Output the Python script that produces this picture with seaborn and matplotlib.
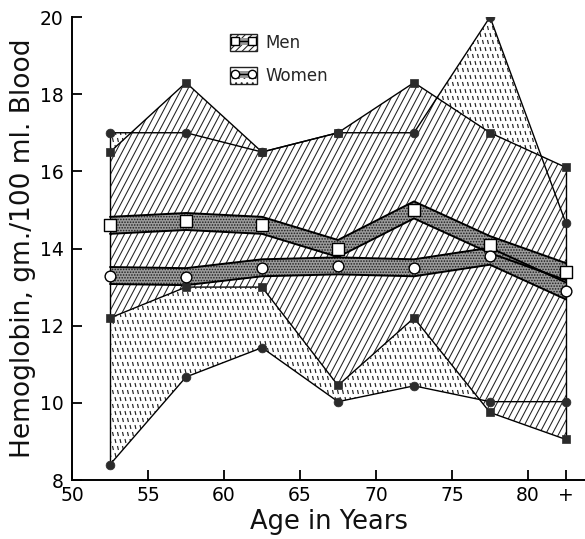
import numpy as np
import pandas as pd
import matplotlib
matplotlib.use("Agg")
import matplotlib.pyplot as plt
import seaborn as sns
from matplotlib.collections import LineCollection
from matplotlib.patches import Patch
from matplotlib.lines import Line2D
from matplotlib.transforms import IdentityTransform

# ---------------- data ----------------
age = [52.5, 57.5, 62.5, 67.5, 72.5, 77.5, 82.5]
men_max = [16.5, 18.3, 16.5, 17.0, 18.3, 17.0, 16.1]
men_mean = [14.6, 14.7, 14.6, 14.0, 15.0, 14.1, 13.4]
men_min = [12.2, 13.0, 13.0, 10.45, 12.2, 9.75, 9.05]
women_max = [17.0, 17.0, 16.5, 17.0, 17.0, 20.0, 14.65]
women_mean = [13.3, 13.27, 13.5, 13.55, 13.5, 13.8, 12.9]
women_min = [8.4, 10.67, 11.43, 10.03, 10.44, 10.03, 10.03]
x_ticks = [50, 55, 60, 65, 70, 75, 80, 82.5]
x_ticklabels = ["50", "55", "60", "65", "70", "75", "80", "+"]
y_ticks = [8, 10, 12, 14, 16, 18, 20]
band_half = 0.22

df = pd.DataFrame({"age": age, "men_max": men_max, "men_mean": men_mean, "men_min": men_min,
                   "women_max": women_max, "women_mean": women_mean, "women_min": women_min})

sns.set_theme(style="ticks")
plt.rcParams["font.family"] = ["DejaVu Sans"]
plt.rcParams["hatch.linewidth"] = 0.75

fig = plt.figure(figsize=(5.85, 5.39), dpi=100)
ax = fig.add_axes([72 / 585, 1 - 480 / 539, 1 - 72 / 585, (480 - 17) / 539])
ax.set_xlim(50, 83.75)
ax.set_ylim(8, 20)

ink = "#222222"

# women range: white base with rain-like dash texture
wpoly = ax.fill_between(df["age"], df["women_min"], df["women_max"], facecolor="white",
                        linewidth=0, zorder=1)
fig.canvas.draw()
segs = []
for j, yy in enumerate(np.arange(0, 545, 7.0)):
    off = 2.5 if j % 2 else 0.0
    for xx in np.arange(60 + off, 590, 5.0):
        segs.append([(xx, yy + 2.0), (xx + 0.9, yy - 2.0)])
tex = LineCollection(segs, colors=ink, linewidths=0.85, transform=IdentityTransform(), zorder=1.5)
ax.add_collection(tex, autolim=False)
tex.set_clip_path(wpoly.get_paths()[0], ax.transData)

# men range: white base with steep diagonal hatch on top
mpoly = ax.fill_between(df["age"], df["men_min"], df["men_max"], facecolor="white",
                        linewidth=0, zorder=2)
msegs = []
for c in np.arange(-400, 700, 6.5):
    msegs.append([(c, 0), (c + 539 / 1.9, 539)])
mtex = LineCollection(msegs, colors=ink, linewidths=0.75, transform=IdentityTransform(), zorder=2.5)
ax.add_collection(mtex, autolim=False)
mtex.set_clip_path(mpoly.get_paths()[0], ax.transData)

# mean bands (stippled)
for col in ["men_mean", "women_mean"]:
    lo = df[col] - band_half
    hi = df[col] + band_half
    ax.fill_between(df["age"], lo, hi, facecolor="#9c9c9c", edgecolor="#1e1e1e",
                    hatch="......", linewidth=0, zorder=3)
    sns.lineplot(x=df["age"], y=lo, color="black", lw=1.4, ax=ax, estimator=None, sort=False, zorder=4)
    sns.lineplot(x=df["age"], y=hi, color="black", lw=1.4, ax=ax, estimator=None, sort=False, zorder=4)

# range boundary lines
for col in ["men_max", "men_min", "women_max", "women_min"]:
    sns.lineplot(data=df, x="age", y=col, color="black", lw=1.0, ax=ax, estimator=None, sort=False, zorder=4)
# end verticals
for i in [0, len(age) - 1]:
    lo = min(men_min[i], women_min[i])
    hi = max(men_max[i], women_max[i])
    ax.plot([age[i], age[i]], [lo, hi], color="black", lw=1.0, zorder=4)

# markers
sns.scatterplot(data=df, x="age", y="men_max", marker="s", s=38, color="#2b2b2b", edgecolor="#2b2b2b", ax=ax, zorder=5)
sns.scatterplot(data=df, x="age", y="men_min", marker="s", s=38, color="#2b2b2b", edgecolor="#2b2b2b", ax=ax, zorder=5)
sns.scatterplot(data=df, x="age", y="women_max", marker="o", s=40, color="#2b2b2b", edgecolor="#2b2b2b", ax=ax, zorder=5)
sns.scatterplot(data=df, x="age", y="women_min", marker="o", s=40, color="#2b2b2b", edgecolor="#2b2b2b", ax=ax, zorder=5)
sns.scatterplot(data=df, x="age", y="men_mean", marker="s", s=70, color="white", edgecolor="black", linewidth=1.0, ax=ax, zorder=6)
sns.scatterplot(data=df, x="age", y="women_mean", marker="o", s=60, color="white", edgecolor="black", linewidth=1.0, ax=ax, zorder=6)

# axes styling
sns.despine(ax=ax)
ax.spines["left"].set_linewidth(1.4)
ax.spines["bottom"].set_linewidth(1.4)
ax.spines["left"].set_color("black")
ax.spines["bottom"].set_color("black")
ax.set_xticks(x_ticks)
ax.set_xticklabels(x_ticklabels)
ax.set_yticks(y_ticks)
ax.tick_params(axis="both", direction="in", length=7, width=1.3, colors="black", labelsize=13.5)
ax.tick_params(axis="x", pad=4)
ax.tick_params(axis="y", pad=6)
ax.set_xlabel("Age in Years", fontsize=18.5, color="#111111", labelpad=3)
ax.set_ylabel("Hemoglobin, gm./100 ml. Blood", fontsize=19, color="#111111", labelpad=3)

# legend
h_men = (Patch(facecolor="white", edgecolor=ink, hatch="/////", linewidth=1.0),
         Line2D([], [], color="#999999", lw=5),
         Line2D([], [], color="black", lw=1.0, marker="s", mfc="white", mec="black", ms=6))
h_women = (Patch(facecolor="white", edgecolor=ink, hatch="...", linewidth=1.0),
           Line2D([], [], color="#999999", lw=5),
           Line2D([], [], color="black", lw=1.0, marker="o", mfc="white", mec="black", ms=6))
ax.legend([h_men, h_women], ["Men", "Women"], loc="upper left", bbox_to_anchor=(222 / 585, 1 - 26 / 539),
          bbox_transform=fig.transFigure, frameon=False, numpoints=2, fontsize=12,
          handlelength=1.6, handleheight=1.2, labelspacing=0.85, handletextpad=0.5, borderpad=0)

fig.savefig("out.png", dpi=100)
